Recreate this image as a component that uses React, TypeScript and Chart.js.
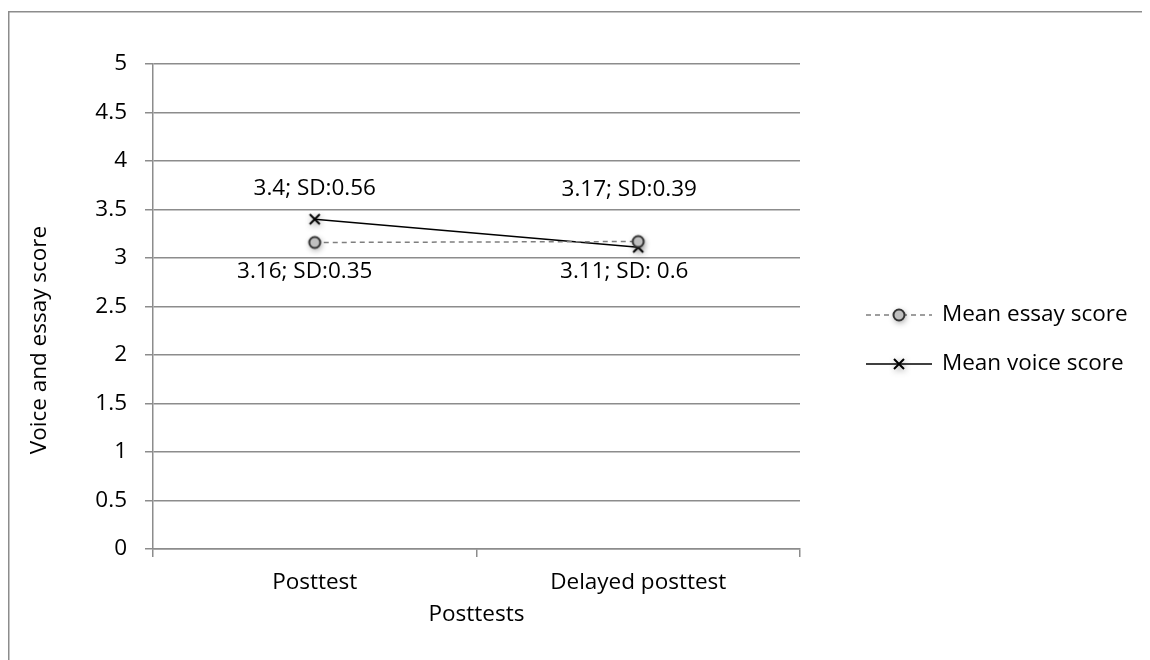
import React, { useEffect, useRef } from "react";
import { Chart, registerables } from "chart.js";

Chart.register(...registerables);

// ---- data ----
const categories = ["Posttest", "Delayed posttest"];
const essayMeans = [3.16, 3.17];
const essaySDs = ["0.35", "0.39"];
const voiceMeans = [3.4, 3.11];
const voiceSDs = ["0.56", " 0.6"];
const yTickMin = 0;
const yTickMax = 5;
const yTickStep = 0.5;
const essayName = "Mean essay score";
const voiceName = "Mean voice score";
const xTitle = "Posttests";
const yTitle = "Voice and essay score";

// ---- styling ----
const FONT = "'Open Sans', 'Noto Sans', sans-serif";
const FONT_SIZE = 22.5;
const AXIS_GRAY = "#8c8c8c";
const TEXT = "#000000";

// label placement relative to each point: [dx, dy] per dataset / index
const labelOffsets: number[][][] = [
  [[-10, 29], [-9, -52]], // essay
  [[0, -31], [-14, 24]], // voice
];

function makeMarker(kind: "circle" | "cross"): HTMLCanvasElement {
  const c = document.createElement("canvas");
  c.width = 28;
  c.height = 28;
  const ctx = c.getContext("2d")!;
  ctx.shadowColor = "rgba(0,0,0,0.42)";
  ctx.shadowBlur = 6;
  ctx.shadowOffsetX = 1;
  ctx.shadowOffsetY = 2;
  const cx = 14;
  const cy = 14;
  if (kind === "circle") {
    ctx.beginPath();
    ctx.arc(cx, cy, 5.5, 0, Math.PI * 2);
    ctx.fillStyle = "#bfbfbf";
    ctx.fill();
    ctx.shadowColor = "transparent";
    ctx.lineWidth = 2;
    ctx.strokeStyle = "#333333";
    ctx.stroke();
  } else {
    ctx.beginPath();
    ctx.moveTo(cx - 5, cy - 5);
    ctx.lineTo(cx + 5, cy + 5);
    ctx.moveTo(cx + 5, cy - 5);
    ctx.lineTo(cx - 5, cy + 5);
    ctx.lineWidth = 2;
    ctx.strokeStyle = "#000000";
    ctx.stroke();
  }
  return c;
}

const decorPlugin = {
  id: "decor",
  beforeDraw(chart: any) {
    // outer frame: top and left edges
    const ctx = chart.ctx;
    ctx.save();
    ctx.strokeStyle = AXIS_GRAY;
    ctx.lineWidth = 1.5;
    ctx.beginPath();
    ctx.moveTo(0.75, chart.height + 10);
    ctx.lineTo(0.75, 3.75);
    ctx.lineTo(chart.width + 50, 3.75);
    ctx.stroke();
    ctx.restore();
  },
  afterDraw(chart: any) {
    const ctx = chart.ctx;
    ctx.save();
    ctx.fillStyle = TEXT;
    ctx.font = `${FONT_SIZE}px ${FONT}`;

    // y-axis title
    ctx.save();
    ctx.translate(32, 332);
    ctx.rotate(-Math.PI / 2);
    ctx.textAlign = "center";
    ctx.textBaseline = "middle";
    ctx.fillText(yTitle, 0, 0);
    ctx.restore();

    // data labels
    const series = [
      { means: essayMeans, sds: essaySDs },
      { means: voiceMeans, sds: voiceSDs },
    ];
    ctx.textAlign = "center";
    ctx.textBaseline = "middle";
    series.forEach((s, di) => {
      const meta = chart.getDatasetMeta(di);
      meta.data.forEach((pt: any, i: number) => {
        const [dx, dy] = labelOffsets[di][i];
        ctx.fillText(`${s.means[i]}; SD:${s.sds[i]}`, pt.x + dx, pt.y + dy);
      });
    });

    // legend
    const items = [
      { name: essayName, y: 307, dash: [5, 4], color: "#7f7f7f", marker: chart.$essayMarker },
      { name: voiceName, y: 356, dash: [], color: "#000000", marker: chart.$voiceMarker },
    ];
    items.forEach((it) => {
      ctx.save();
      ctx.strokeStyle = it.color;
      ctx.lineWidth = 1.5;
      ctx.setLineDash(it.dash);
      ctx.beginPath();
      ctx.moveTo(858, it.y);
      ctx.lineTo(924, it.y);
      ctx.stroke();
      ctx.restore();
      if (it.marker) {
        ctx.drawImage(it.marker, 891 - it.marker.width / 2, it.y - it.marker.height / 2);
      }
      ctx.textAlign = "left";
      ctx.textBaseline = "middle";
      ctx.fillText(it.name, 934, it.y);
    });
    ctx.restore();
  },
};

export default function App() {
  const ref = useRef<HTMLCanvasElement | null>(null);

  useEffect(() => {
    document.documentElement.style.overflow = "hidden";
    document.body.style.overflow = "hidden";
    const canvas = ref.current;
    if (!canvas) return;
    const essayMarker = makeMarker("circle");
    const voiceMarker = makeMarker("cross");

    const chart: any = new Chart(canvas, {
      type: "line",
      data: {
        labels: categories,
        datasets: [
          {
            label: essayName,
            data: essayMeans,
            borderColor: "#7f7f7f",
            borderWidth: 1.5,
            borderDash: [5, 4],
            pointStyle: essayMarker as any,
            pointRadius: 6,
            pointHoverRadius: 6,
            tension: 0,
          },
          {
            label: voiceName,
            data: voiceMeans,
            borderColor: "#000000",
            borderWidth: 1.5,
            pointStyle: voiceMarker as any,
            pointRadius: 6,
            pointHoverRadius: 6,
            tension: 0,
          },
        ],
      },
      options: {
        animation: false,
        responsive: false,
        events: [],
        layout: { autoPadding: false, padding: { top: 56, right: 350, left: 0, bottom: 0 } },
        plugins: {
          legend: { display: false },
          tooltip: { enabled: false },
        },
        scales: {
          x: {
            type: "category",
            offset: true,
            grid: {
              offset: true,
              drawOnChartArea: false,
              drawTicks: true,
              tickLength: 8,
              color: AXIS_GRAY,
              lineWidth: 1.5,
            },
            border: { display: true, color: AXIS_GRAY, width: 1.5 },
            ticks: {
              color: TEXT,
              font: { family: FONT, size: FONT_SIZE },
              padding: 12,
              maxRotation: 0,
            },
            title: {
              display: true,
              text: xTitle,
              color: TEXT,
              font: { family: FONT, size: FONT_SIZE },
              padding: { top: 0, bottom: 32 },
            },
            afterFit(scale: any) {
              scale.height = 111;
            },
          },
          y: {
            min: yTickMin,
            max: yTickMax,
            grid: {
              color: AXIS_GRAY,
              lineWidth: 1.5,
              drawTicks: true,
              tickLength: 8,
            },
            border: { display: true, color: AXIS_GRAY, width: 1.5 },
            ticks: {
              stepSize: yTickStep,
              color: TEXT,
              font: { family: FONT, size: FONT_SIZE },
              padding: 18,
              callback: (v: any) => String(Number(v)),
            },
            afterFit(scale: any) {
              scale.width = 145;
            },
          },
        },
      },
      plugins: [decorPlugin],
    });
    chart.$essayMarker = essayMarker;
    chart.$voiceMarker = voiceMarker;
    chart.draw();

    return () => chart.destroy();
  }, []);

  return (
    <div style={{ width: 1142, height: 652, overflow: "hidden" }}>
      <canvas ref={ref} width={1142} height={652} style={{ display: "block" }} />
    </div>
  );
}
